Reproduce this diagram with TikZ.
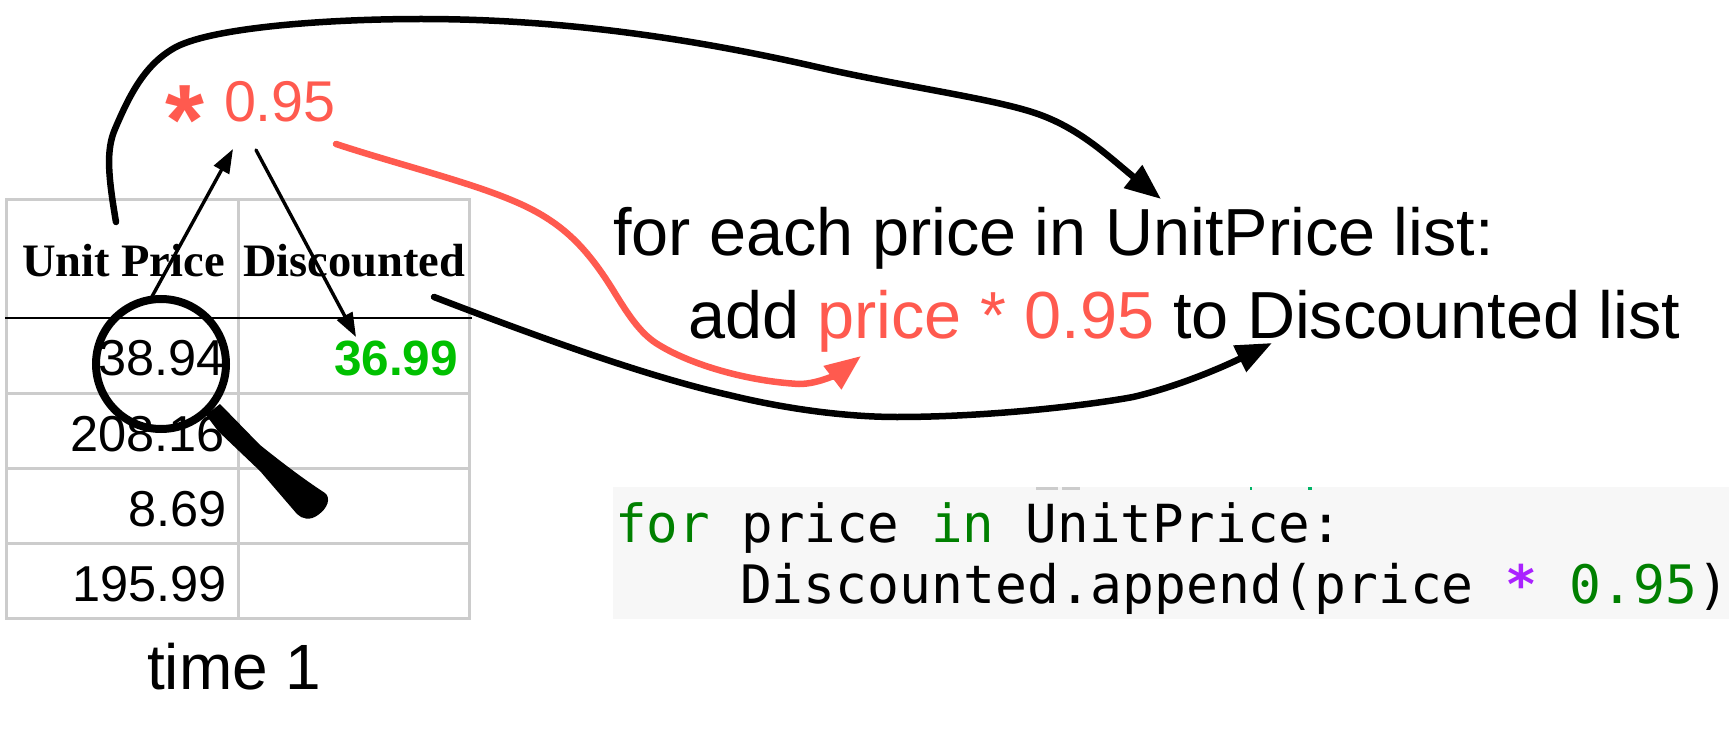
\documentclass[tikz,border=0pt]{standalone}
\usepackage{fontspec}
\usetikzlibrary{arrows.meta}
\setmainfont{Liberation Sans}
\newfontfamily\headfont{Liberation Serif}
\setmonofont{DejaVu Sans Mono}
\definecolor{gridgray}{HTML}{CCCCCC}
\definecolor{coral}{HTML}{FF5A4F}
\definecolor{resultgreen}{HTML}{00C000}
\definecolor{codebg}{HTML}{F7F7F7}
\definecolor{codegreen}{HTML}{008000}
\definecolor{codepurple}{HTML}{AA22FF}
\tikzset{
    txt/.style={inner sep=0pt, outer sep=0pt},
    cellnum/.style={txt, anchor=base east, font=\fontsize{50.5}{51}\selectfont},
    cellhead/.style={txt, anchor=base west, font=\headfont\bfseries\fontsize{46.5}{47}\selectfont},
    bigtxt/.style={txt, anchor=base west, font=\fontsize{66.6}{67}\selectfont},
    codetxt/.style={txt, anchor=base west, font=\ttfamily\fontsize{53}{54}\selectfont},
    grid line/.style={color=gridgray, line width=3pt},
    thin arrow/.style={-{Triangle[length=24pt,width=17pt]}, color=black, line width=3.4pt, line cap=round},
    thick arrow/.style={-{Triangle[length=36pt,width=28pt]}, line width=6.5pt, line cap=round},
}
\begin{document}
\begin{tikzpicture}[x=1pt,y=-1pt]
\useasboundingbox (0,0) rectangle (1733,749);
% table
\draw[grid line] (6.5,199) rectangle (469.5,618);
\draw[grid line] (238,199) -- (238,618);
\draw[grid line] (6.5,393) -- (469.5,393);
\draw[grid line] (6.5,468) -- (469.5,468);
\draw[grid line] (6.5,543) -- (469.5,543);
\draw[color=black, line width=2.8pt] (5,318) -- (472,318);
\node[cellhead] (headPrice) at (22,276) {Unit Price};
\node[cellhead] (headDisc) at (243,276) {Discounted};
\node[cellnum] (cellA) at (225,375.5) {38.94};
\node[cellnum] (cellB) at (225,451) {208.16};
\node[cellnum] (cellC) at (227,526) {8.69};
\node[cellnum] (cellD) at (227,601) {195.99};
\node[cellnum, font=\bfseries\fontsize{49.5}{50}\selectfont, color=resultgreen] (cellResult) at (458,375.5) {36.99};
\node[bigtxt, font=\fontsize{64}{64}\selectfont] (timeLabel) at (147,689) {time 1};
% factor
\node[txt, anchor=base west, font=\bfseries\fontsize{100}{100}\selectfont, color=coral] (factorStar) at (165,155) {*};
\node[txt, anchor=base west, font=\fontsize{57.5}{58}\selectfont, color=coral] (factorNum) at (224,122) {0.95};
% pseudo code
\node[bigtxt] (lineOne) at (613,255) {for each price in UnitPrice list:};
\node[bigtxt] (lineTwo) at (688,338) {add \textcolor{coral}{price * 0.95} to Discounted list};
% code box
\fill[codebg] (613,487) rectangle (1729,619);
\fill[gridgray] (1036,487) rectangle (1058,490);
\fill[gridgray] (1062,487) rectangle (1080,490);
\fill[codegreen!60!cyan] (1250,487) rectangle (1252,490);
\fill[codegreen!60!cyan] (1308,487) rectangle (1312,490);
\node[codetxt, font=\ttfamily\fontsize{52.5}{54}\selectfont] (codeOne) at (615,542) {\textcolor{codegreen}{for} price \textcolor{codegreen}{in} UnitPrice:};
\node[codetxt] (codeTwo) at (740,603) {Discounted.append(price \textcolor{codepurple}{\bfseries *} \textcolor{codegreen}{0.95})};
% magnifier
\draw[color=black, line width=8pt] (161,364) circle (65pt);
\fill[black] (220,404) -- (260,445) .. controls (285,465) and (305,480) .. (325,493)
    .. controls (331,498) and (328,508) .. (318,515)
    .. controls (310,521) and (302,519) .. (297,514) -- (260,471) -- (218,431) -- (206,415) -- cycle;
% end points
\coordinate (fromCell) at (149,302);
\coordinate (intoFactor) at (233,149);
\coordinate (fromFactor) at (256,150);
\coordinate (intoResult) at (356,337);
\coordinate (fromHead) at (116,222);
\coordinate (intoList) at (1161,199);
\coordinate (fromNum) at (336,144);
\coordinate (intoExpr) at (861,356);
\coordinate (fromDisc) at (434,297);
\coordinate (intoDisc) at (1272,343);
% arrows
\draw[thin arrow] (fromCell) -- (intoFactor);
\draw[thin arrow] (fromFactor) -- (intoResult);
\draw[thick arrow, color=black] (fromHead)
    .. controls (108,175) and (106,150) .. (115,129)
    .. controls (130,94) and (145,64) .. (176,47)
    .. controls (215,27) and (330,19) .. (421,19)
    .. controls (560,19) and (690,38) .. (817,67)
    .. controls (900,86) and (990,98) .. (1035,113)
    .. controls (1080,128) and (1110,158) .. (intoList);
\draw[thick arrow, color=coral] (fromNum)
    .. controls (400,165) and (470,182) .. (516,202)
    .. controls (560,221) and (585,245) .. (613,290)
    .. controls (630,318) and (642,335) .. (659,345)
    .. controls (690,364) and (745,381) .. (799,384)
    .. controls (820,384) and (840,372) .. (intoExpr);
\draw[thick arrow, color=black] (fromDisc)
    .. controls (520,330) and (640,375) .. (729,395)
    .. controls (790,410) and (850,417) .. (897,417)
    .. controls (990,417) and (1090,405) .. (1133,397)
    .. controls (1180,386) and (1225,366) .. (intoDisc);
\end{tikzpicture}
\end{document}
